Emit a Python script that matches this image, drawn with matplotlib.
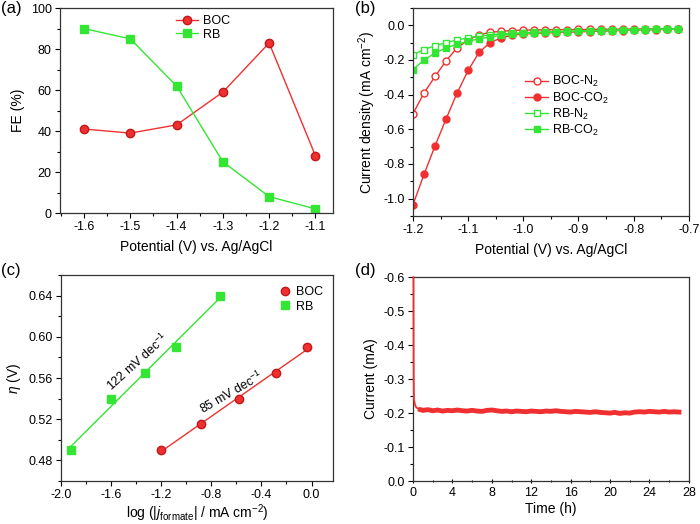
import numpy as np
import matplotlib.pyplot as plt
from matplotlib.ticker import MultipleLocator, AutoMinorLocator

plt.rcParams['font.family'] = ['Liberation Sans', 'DejaVu Sans']
plt.rcParams['mathtext.fontset'] = 'custom'
plt.rcParams['mathtext.rm'] = 'Liberation Sans'
plt.rcParams['mathtext.it'] = 'Liberation Sans:italic'
plt.rcParams['axes.unicode_minus'] = False

RED = '#f03030'
GREEN = '#33e633'

# (a) Faradaic efficiency
fe_potential = [-1.6, -1.5, -1.4, -1.3, -1.2, -1.1]
fe_boc = [41, 39, 43, 59, 83, 28]
fe_rb = [90, 85, 62, 25, 8, 2]

# (b) LSV curves
lsv_potential = [-1.20, -1.18, -1.16, -1.14, -1.12, -1.10, -1.08, -1.06, -1.04,
                 -1.02, -1.00, -0.98, -0.96, -0.94, -0.92, -0.90, -0.88, -0.86,
                 -0.84, -0.82, -0.80, -0.78, -0.76, -0.74, -0.72]
boc_n2 = [-0.51, -0.39, -0.295, -0.205, -0.13, -0.085, -0.055, -0.04, -0.035,
          -0.03, -0.028, -0.027, -0.026, -0.025, -0.025, -0.024, -0.024, -0.023,
          -0.023, -0.022, -0.022, -0.021, -0.021, -0.02, -0.02]
boc_co2 = [-1.035, -0.86, -0.695, -0.54, -0.39, -0.26, -0.155, -0.1, -0.072,
           -0.057, -0.05, -0.047, -0.044, -0.042, -0.04, -0.038, -0.036, -0.034,
           -0.032, -0.03, -0.028, -0.026, -0.025, -0.023, -0.022]
rb_n2 = [-0.17, -0.14, -0.118, -0.1, -0.085, -0.072, -0.062, -0.056, -0.05,
         -0.046, -0.043, -0.04, -0.038, -0.036, -0.034, -0.032, -0.03, -0.029,
         -0.028, -0.026, -0.025, -0.024, -0.023, -0.022, -0.021]
rb_co2 = [-0.255, -0.2, -0.16, -0.13, -0.11, -0.092, -0.078, -0.067, -0.058,
          -0.052, -0.047, -0.044, -0.041, -0.039, -0.037, -0.035, -0.033, -0.031,
          -0.03, -0.028, -0.027, -0.025, -0.024, -0.023, -0.022]

# (c) Tafel plots
tafel_boc_x = [-1.205, -0.88, -0.58, -0.28, -0.04]
tafel_boc_y = [0.49, 0.515, 0.54, 0.565, 0.59]
tafel_rb_x = [-1.92, -1.60, -1.33, -1.08, -0.73]
tafel_rb_y = [0.49, 0.54, 0.565, 0.59, 0.64]

# (d) stability test
stab_time = [0.05, 0.06, 0.08, 0.1, 0.2, 0.3, 0.5, 0.75, 1.0, 1.5, 2.0, 2.5, 3.0,
             3.5, 4.0, 4.5, 5.0, 5.5, 6.0, 6.5, 7.0, 7.5, 8.0, 8.5, 9.0, 9.5,
             10.0, 10.5, 11.0, 11.5, 12.0, 12.5, 13.0, 13.5, 14.0, 14.5, 15.0,
             15.5, 16.0, 16.5, 17.0, 17.5, 18.0, 18.5, 19.0, 19.5, 20.0, 20.5,
             21.0, 21.5, 22.0, 22.5, 23.0, 23.5, 24.0, 24.5, 25.0, 25.5, 26.0,
             26.5, 27.0]
stab_current = [-0.60, -0.40, -0.28, -0.24, -0.225, -0.218, -0.213, -0.21,
                -0.208, -0.21, -0.207, -0.209, -0.206, -0.208, -0.207, -0.209,
                -0.207, -0.206, -0.208, -0.206, -0.205, -0.208, -0.209, -0.207,
                -0.205, -0.206, -0.204, -0.206, -0.205, -0.204, -0.206, -0.205,
                -0.204, -0.206, -0.205, -0.207, -0.205, -0.204, -0.203, -0.205,
                -0.204, -0.203, -0.202, -0.204, -0.202, -0.201, -0.2, -0.202,
                -0.199, -0.201, -0.2, -0.203, -0.204, -0.203, -0.205, -0.204,
                -0.203, -0.205, -0.203, -0.204, -0.203]
spike_end = 7  # first points: the initial decay, drawn thin

TICK_FS = 9
LABEL_FS = 10

fig = plt.figure(figsize=(7.0, 5.24), dpi=100)
ax_a = fig.add_axes([0.0857, 0.5935, 0.39, 0.391])
ax_b = fig.add_axes([0.59, 0.5878, 0.394, 0.397])
ax_c = fig.add_axes([0.087, 0.082, 0.389, 0.393])
ax_d = fig.add_axes([0.59, 0.082, 0.394, 0.389])

for ax in (ax_a, ax_b, ax_c, ax_d):
    ax.tick_params(which='both', direction='out', top=False, right=False, labelsize=TICK_FS)
    ax.tick_params(which='major', length=3.5, width=0.8, pad=2.5)
    ax.tick_params(which='minor', length=2, width=0.8)
    for s in ax.spines.values():
        s.set_linewidth(0.9)
        s.set_color('#333333')

fmt1 = plt.FuncFormatter(lambda v, p: f'{v:.1f}')

# (a)
ax_a.plot(fe_potential, fe_boc, '-o', color=RED, mfc=RED, mec='#c01818', ms=6, lw=1, label='BOC')
ax_a.plot(fe_potential, fe_rb, '-s', color=GREEN, ms=5.5, lw=1, label='RB')
ax_a.set_xlim(-1.652, -1.062)
ax_a.set_ylim(0, 100)
ax_a.xaxis.set_major_locator(MultipleLocator(0.1))
ax_a.xaxis.set_minor_locator(AutoMinorLocator(2))
ax_a.yaxis.set_major_locator(MultipleLocator(20))
ax_a.yaxis.set_minor_locator(AutoMinorLocator(2))
ax_a.xaxis.set_major_formatter(fmt1)
ax_a.set_xlabel('Potential (V) vs. Ag/AgCl', fontsize=LABEL_FS, labelpad=5)
ax_a.set_ylabel('FE (%)', fontsize=LABEL_FS)
ax_a.legend(loc='upper left', bbox_to_anchor=(0.383, 1.02), frameon=False, fontsize=9,
            handlelength=1.8, handletextpad=0.4, labelspacing=0.1)

# (b)
ax_b.plot(lsv_potential, boc_n2, '-o', color=RED, mfc='white', mec=RED, ms=5, lw=1, label='BOC-N$_2$')
ax_b.plot(lsv_potential, boc_co2, '-o', color=RED, mfc=RED, mec=RED, ms=5, lw=1, label='BOC-CO$_2$')
ax_b.plot(lsv_potential, rb_n2, '-s', color=GREEN, mfc='white', mec=GREEN, ms=5, lw=1, label='RB-N$_2$')
ax_b.plot(lsv_potential, rb_co2, '-s', color=GREEN, mfc=GREEN, mec=GREEN, ms=5, lw=1, label='RB-CO$_2$')
ax_b.set_xlim(-1.2, -0.7)
ax_b.set_ylim(-1.1, 0.1)
ax_b.xaxis.set_major_locator(MultipleLocator(0.1))
ax_b.xaxis.set_minor_locator(AutoMinorLocator(2))
ax_b.yaxis.set_major_locator(MultipleLocator(0.2))
ax_b.yaxis.set_minor_locator(AutoMinorLocator(2))
ax_b.xaxis.set_major_formatter(fmt1)
ax_b.yaxis.set_major_formatter(fmt1)
ax_b.set_xlabel('Potential (V) vs. Ag/AgCl', fontsize=LABEL_FS, labelpad=5)
ax_b.set_ylabel('Current density (mA cm$^{-2}$)', fontsize=LABEL_FS)
ax_b.legend(loc='upper left', bbox_to_anchor=(0.367, 0.735), frameon=False, fontsize=9,
            handlelength=1.8, handletextpad=0.3, labelspacing=0.08)

# (c)
ax_c.plot(tafel_boc_x, tafel_boc_y, 'o', color=RED, mec='#c01818', ms=6, label='BOC')
ax_c.plot(tafel_rb_x, tafel_rb_y, 's', color=GREEN, ms=5.5, label='RB')
for xs, ys, col in ((tafel_boc_x, tafel_boc_y, RED), (tafel_rb_x, tafel_rb_y, GREEN)):
    k, b = np.polyfit(xs, ys, 1)
    xx = np.array([min(xs), max(xs)])
    ax_c.plot(xx, k * xx + b, '-', color=col, lw=1, zorder=1)
ax_c.set_xlim(-2.0, 0.173)
ax_c.set_ylim(0.46, 0.66)
ax_c.xaxis.set_major_locator(MultipleLocator(0.4))
ax_c.xaxis.set_minor_locator(AutoMinorLocator(2))
ax_c.yaxis.set_major_locator(MultipleLocator(0.04))
ax_c.yaxis.set_minor_locator(AutoMinorLocator(2))
ax_c.xaxis.set_major_formatter(fmt1)
ax_c.yaxis.set_major_formatter(plt.FuncFormatter(lambda v, p: f'{v:.2f}'))
ax_c.set_xlabel('log (|$\\it{j}_{\\rm{formate}}$| / mA cm$^{-2}$)', fontsize=LABEL_FS, labelpad=1)
ax_c.set_ylabel('$\\it{\\eta}$ (V)', fontsize=LABEL_FS)
ax_c.text(-1.39, 0.576, '122 mV dec$^{-1}$', rotation=42, fontsize=9, ha='center', va='center')
ax_c.text(-0.64, 0.546, '85 mV dec$^{-1}$', rotation=30, fontsize=9, ha='center', va='center')
ax_c.legend(loc='upper left', bbox_to_anchor=(0.755, 1.0), frameon=False, fontsize=9,
            handlelength=1.2, handletextpad=0.3, labelspacing=0.2)

# (d)
ax_d.plot(stab_time[:spike_end + 1], stab_current[:spike_end + 1], '-', color=RED, lw=1.3,
          zorder=3, clip_on=False)
ax_d.plot(stab_time[spike_end:], stab_current[spike_end:], '-', color=RED, lw=3.5,
          solid_joinstyle='miter')
ax_d.set_xlim(0, 28)
ax_d.set_ylim(0, -0.6)
ax_d.xaxis.set_major_locator(MultipleLocator(4))
ax_d.xaxis.set_minor_locator(AutoMinorLocator(2))
ax_d.yaxis.set_major_locator(MultipleLocator(0.1))
ax_d.yaxis.set_minor_locator(AutoMinorLocator(2))
ax_d.tick_params(axis='x', which='both', direction='inout')
ax_d.yaxis.set_major_formatter(fmt1)
ax_d.set_xlabel('Time (h)', fontsize=LABEL_FS, labelpad=2)
ax_d.set_ylabel('Current (mA)', fontsize=LABEL_FS)

for lbl, x, y in (('(a)', 0.002, 0.998), ('(b)', 0.507, 0.998), ('(c)', 0.002, 0.498), ('(d)', 0.507, 0.498)):
    fig.text(x, y, lbl, fontsize=12, ha='left', va='top')

fig.savefig('out.png', dpi=100)
